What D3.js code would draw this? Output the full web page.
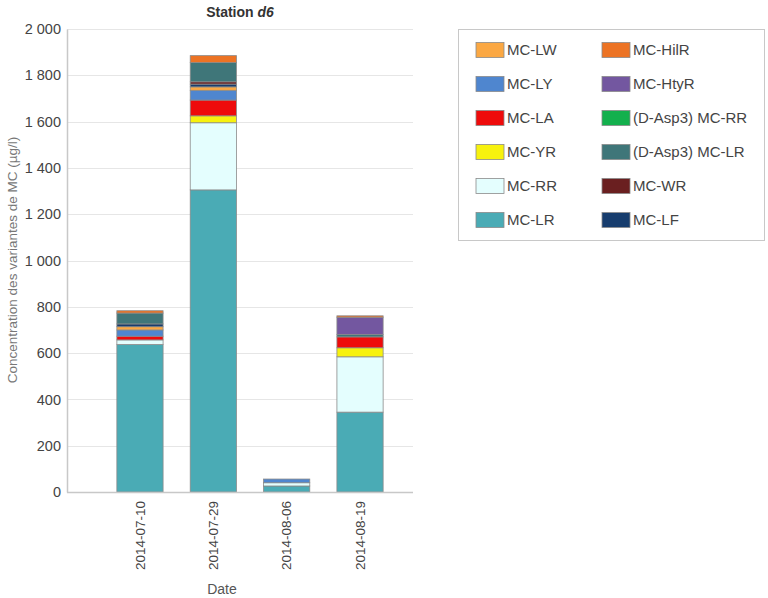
<!DOCTYPE html>
<html>
<head>
<meta charset="utf-8">
<script src="https://cdn.jsdelivr.net/npm/d3@7"></script>
<style>
  body { margin: 0; background: #fff; }
  svg { font-family: "Liberation Sans", Arial, sans-serif; }
</style>
</head>
<body>
<svg id="chart" width="768" height="598"></svg>
<script>
const categories = ["2014-07-10", "2014-07-29", "2014-08-06", "2014-08-19"];
const yTicks = [0, 200, 400, 600, 800, 1000, 1200, 1400, 1600, 1800, 2000];

// series, bottom of stack first
const mcLR     = [637, 1305, 26, 345];
const mcRR     = [20, 290, 14, 239];
const mcYR     = [0, 30, 0, 39];
const mcLA     = [16, 68, 0, 47];
const mcLY     = [27, 42, 16, 0];
const mcLW     = [14, 15, 0, 0];
const mcLF     = [12, 12, 0, 0];
const mcWR     = [0, 10, 0, 0];
const dAspLR   = [47, 83, 0, 10];
const dAspRR   = [0, 0, 0, 0];
const mcHtyR   = [0, 0, 0, 75];
const mcHilR   = [10, 30, 0, 6];

const seriesNames  = ["MC-LR", "MC-RR", "MC-YR", "MC-LA", "MC-LY", "MC-LW", "MC-LF", "MC-WR", "(D-Asp3) MC-LR", "(D-Asp3) MC-RR", "MC-HtyR", "MC-HilR"];
const seriesValues = [mcLR, mcRR, mcYR, mcLA, mcLY, mcLW, mcLF, mcWR, dAspLR, dAspRR, mcHtyR, mcHilR];
const seriesColors = ["#4AABB5", "#E4FEFE", "#F7F20E", "#EE0B0B", "#4F86CF", "#FBA843", "#173D6E", "#6A1F20", "#3F7679", "#13B04D", "#7357A0", "#EC7324"];

// legend layout (column-wise)
const legendCol1 = ["MC-LW", "MC-LY", "MC-LA", "MC-YR", "MC-RR", "MC-LR"];
const legendCol2 = ["MC-HilR", "MC-HtyR", "(D-Asp3) MC-RR", "(D-Asp3) MC-LR", "MC-WR", "MC-LF"];

const svg = d3.select("#chart");
const colorOf = d3.scaleOrdinal().domain(seriesNames).range(seriesColors);

const plotLeft = 67, plotRight = 413, plotTop = 29, plotBottom = 492;

const y = d3.scaleLinear().domain([0, 2000]).range([plotBottom, plotTop]);
const x = d3.scaleBand().domain(categories).range([103.3, 396.7]).paddingInner(0.37).paddingOuter(0.185);

// gridlines
svg.append("g").selectAll("line").data(yTicks.filter(d => d > 0)).join("line")
  .attr("x1", plotLeft).attr("x2", plotRight)
  .attr("y1", d => Math.round(y(d)) + 0.5).attr("y2", d => Math.round(y(d)) + 0.5)
  .attr("stroke", "#e6e6e6").attr("stroke-width", 1);

// y axis
const fmt = d => d3.format(",")(d).replace(/,/g, " ");
const yAxis = d3.axisLeft(y).tickValues(yTicks).tickSize(0).tickPadding(6).tickFormat(fmt);
const gy = svg.append("g").attr("transform", `translate(${plotLeft},0)`).call(yAxis);
gy.select(".domain").attr("stroke", "#c8c8c8").attr("stroke-width", 1.5);
gy.selectAll("text").attr("font-size", 14.5).attr("fill", "#444");

// stacked data
const stackData = categories.map((c, i) => {
  const o = { cat: c };
  seriesNames.forEach((n, k) => o[n] = seriesValues[k][i]);
  return o;
});
const stacked = d3.stack().keys(seriesNames)(stackData);

svg.append("g").selectAll("g").data(stacked).join("g")
  .attr("fill", d => colorOf(d.key))
  .selectAll("rect").data(d => d.filter(p => p[1] - p[0] > 0)).join("rect")
  .attr("x", d => x(d.data.cat))
  .attr("width", x.bandwidth())
  .attr("y", d => y(d[1]))
  .attr("height", d => y(d[0]) - y(d[1]))
  .attr("stroke", "#8a8a8a").attr("stroke-width", 0.8);

// x axis
const xAxis = d3.axisBottom(x).tickSize(0).tickPadding(8);
const gx = svg.append("g").attr("transform", `translate(0,${plotBottom})`).call(xAxis);
gx.select(".domain").remove();
svg.append("line").attr("x1", plotLeft).attr("x2", plotRight)
  .attr("y1", plotBottom + 0.5).attr("y2", plotBottom + 0.5)
  .attr("stroke", "#c8c8c8").attr("stroke-width", 1.5);
gx.selectAll("text")
  .attr("font-size", 13.5).attr("fill", "#444")
  .attr("transform", "rotate(-90)")
  .attr("text-anchor", "end")
  .attr("x", -9).attr("y", 0).attr("dy", "0.35em");

// axis titles
svg.append("text").attr("x", 222).attr("y", 594).attr("text-anchor", "middle")
  .attr("font-size", 14).attr("fill", "#555").text("Date");
svg.append("text").attr("transform", "translate(17,260) rotate(-90)").attr("text-anchor", "middle")
  .attr("font-size", 13.5).attr("fill", "#777").text("Concentration des variantes de MC (µg/l)");

// title
const title = svg.append("text").attr("x", 240).attr("y", 17).attr("text-anchor", "middle")
  .attr("font-size", 14).attr("font-weight", "bold").attr("fill", "#333");
title.append("tspan").text("Station ");
title.append("tspan").attr("font-style", "italic").text("d6");

// legend
const lg = svg.append("g");
lg.append("rect").attr("x", 458.5).attr("y", 29.5).attr("width", 306).attr("height", 211)
  .attr("fill", "#fff").attr("stroke", "#c8c8c8");
const rowY = d3.scalePoint().domain(d3.range(6)).range([50, 220]);
[[legendCol1, 476, 507], [legendCol2, 602, 633]].forEach(([names, sx, tx]) => {
  names.forEach((n, i) => {
    lg.append("rect").attr("x", sx).attr("y", rowY(i) - 7.5).attr("width", 28).attr("height", 15)
      .attr("fill", colorOf(n)).attr("stroke", "#8a8a8a").attr("stroke-width", 0.8);
    lg.append("text").attr("x", tx).attr("y", rowY(i)).attr("dy", "0.35em")
      .attr("font-size", 15).attr("fill", "#444").text(n);
  });
});
</script>
</body>
</html>
